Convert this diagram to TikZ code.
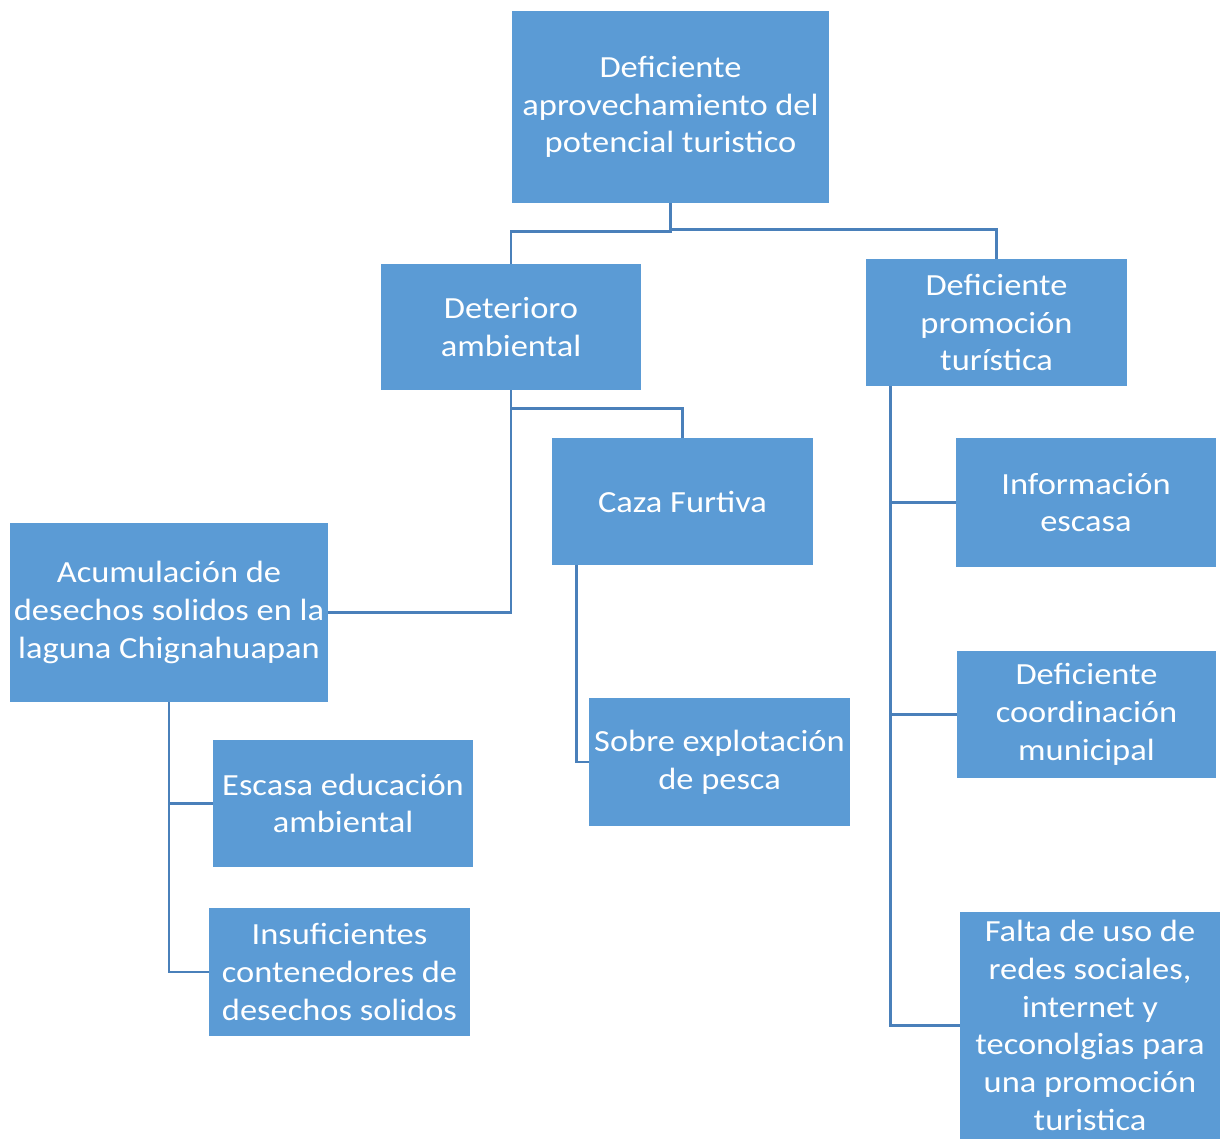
\documentclass[tikz,border=0pt]{standalone}
\usepackage{fontspec}
\setmainfont{Carlito}[FakeStretch=1.12]
\definecolor{cajaazul}{RGB}{91,155,213}
\definecolor{lineaazul}{RGB}{74,128,186}

\begin{document}
\begin{tikzpicture}[x=0.02cm, y=-0.02cm,
  caja/.style={fill=cajaazul, text=white, align=center, inner sep=2pt,
    font=\fontsize{17.5}{21.5}\selectfont},
  enlace/.style={draw=lineaazul, line width=1.6pt}]

\useasboundingbox (0,0) rectangle (1225,1139);

% problema central
\node[caja, minimum width=6.34cm, minimum height=3.84cm] (problema) at (670.5,107) {Deficiente\\aprovechamiento del\\potencial turistico};

% causas de primer nivel
\node[caja, minimum width=5.2cm, minimum height=2.52cm] (deterioro) at (511,327) {Deterioro\\ambiental};
\node[caja, minimum width=5.22cm, minimum height=2.54cm] (promocion) at (996.5,322.5) {Deficiente\\promoción\\turística};

% rama deterioro
\node[caja, minimum width=5.22cm, minimum height=2.54cm] (caza) at (682.5,501.5) {Caza Furtiva};
\node[caja, minimum width=6.32cm, minimum height=3.58cm] (acumulacion) at (169,612.5) {Acumulación de\\desechos solidos en la\\laguna Chignahuapan};
\node[caja, minimum width=5.22cm, minimum height=2.56cm] (pesca) at (719.5,762) {Sobre explotación\\de pesca};
\node[caja, minimum width=5.2cm, minimum height=2.54cm] (educacion) at (343,803.5) {Escasa educación\\ambiental};
\node[caja, minimum width=5.22cm, minimum height=2.56cm] (contenedores) at (339.5,972) {Insuficientes\\contenedores de\\desechos solidos};

% rama promocion
\node[caja, minimum width=5.2cm, minimum height=2.58cm] (informacion) at (1086,502.5) {Información\\escasa};
\node[caja, minimum width=5.18cm, minimum height=2.54cm] (coordinacion) at (1086.5,714.5) {Deficiente\\coordinación\\municipal};
\node[caja, minimum width=5.2cm, minimum height=4.54cm] (redes) at (1090,1025.5) {Falta de uso de\\redes sociales,\\internet y\\teconolgias para\\una promoción\\turistica};

% conectores
\draw[enlace] (problema.south) -- ++(0,28) -| (deterioro.north);
\draw[enlace] (problema.south) -- ++(0,26) -| (promocion.north);

\draw[enlace] (deterioro.south) |- (acumulacion.east);
\draw[enlace] (deterioro.south) -- ++(0,18) -| (caza.north);
\draw[enlace] ([xshift=0.5cm]caza.south west) |- (pesca.west);

\draw[enlace] (acumulacion.south) |- (educacion.west);
\draw[enlace] (acumulacion.south) |- (contenedores.west);

\draw[enlace] ([xshift=0.5cm]promocion.south west) |- (informacion.west);
\draw[enlace] ([xshift=0.5cm]promocion.south west) |- (coordinacion.west);
\draw[enlace] ([xshift=0.5cm]promocion.south west) |- (redes.west);

\end{tikzpicture}
\end{document}
